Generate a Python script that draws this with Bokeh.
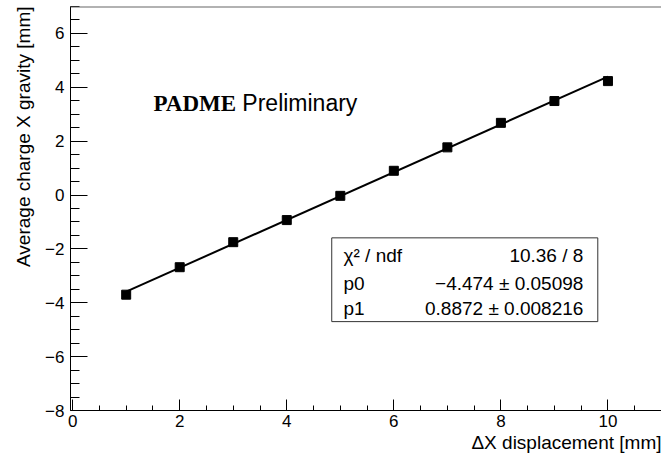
import numpy as np
from bokeh.plotting import figure
from bokeh.models import (Range1d, SingleIntervalTicker, CustomJSTickFormatter,
                          Label, BoxAnnotation, Span, Title)
from bokeh.embed import file_html
from bokeh.resources import INLINE

# ---- data ----
x_disp = [1, 2, 3, 4, 5, 6, 7, 8, 9, 10]
y_grav = [-3.70, -2.68, -1.75, -0.93, -0.03, 0.90, 1.77, 2.68, 3.49, 4.23]
p0 = -4.474
p1 = 0.8872
fit_x = [1, 10]
stats_names = ["\u03c7\u00b2 / ndf", "p0", "p1"]
stats_vals = ["10.36 / 8", "\u22124.474 \u00b1 0.05098", "0.8872 \u00b1 0.008216"]
x_title = "\u0394X displacement [mm]"
y_title = "Average charge X gravity [mm]"

SANS = "Liberation Sans"
SERIF = "Liberation Serif"

p = figure(width=661, height=462, output_backend="svg", toolbar_location=None,
           x_range=Range1d(-0.04, 11.0), y_range=Range1d(-8, 7.0),
           min_border_left=70, min_border_right=0, min_border_top=6,
           min_border_bottom=52)
p.outline_line_color = None
p.xgrid.visible = False
p.ygrid.visible = False
p.background_fill_color = "white"
p.border_fill_color = "white"

fmt = CustomJSTickFormatter(code="return tick < 0 ? '\u2212' + Math.abs(tick) : String(tick);")

xa = p.xaxis[0]
xa.ticker = SingleIntervalTicker(interval=2, num_minor_ticks=4)
xa.formatter = fmt
xa.major_tick_in = 11
xa.major_tick_out = 0
xa.minor_tick_in = 5
xa.minor_tick_out = 0
xa.major_label_standoff = 4
xa.major_label_text_font = SANS
xa.major_label_text_font_size = "17px"
xa.major_label_text_color = "black"
xa.axis_line_color = "black"
xa.major_tick_line_color = "black"
xa.minor_tick_line_color = "black"

ya = p.yaxis[0]
ya.ticker = SingleIntervalTicker(interval=2, num_minor_ticks=4)
ya.formatter = fmt
ya.major_tick_in = 17
ya.major_tick_out = 0
ya.minor_tick_in = 9
ya.minor_tick_out = 0
ya.major_label_standoff = 6
ya.major_label_text_font = SANS
ya.major_label_text_font_size = "17px"
ya.major_label_text_color = "black"
ya.axis_line_color = "black"
ya.major_tick_line_color = "black"
ya.minor_tick_line_color = "black"

# axis titles as side titles (right / top aligned like ROOT)
p.add_layout(Title(text=x_title, align="right", text_font=SANS,
                   text_font_size="19px", text_font_style="normal",
                   text_color="black", standoff=0), "below")
p.add_layout(Title(text=y_title, align="right", text_font=SANS,
                   text_font_size="19px", text_font_style="normal",
                   text_color="black", standoff=18), "left")

# top frame line
p.add_layout(Span(location=7.0, dimension="width", line_color="#666666", line_width=2))

# fit line and data
fit_y = [p0 + p1 * v for v in fit_x]
p.line(fit_x, fit_y, line_color="black", line_width=2)
p.scatter(x_disp, y_grav, marker="square", size=9, color="black")

# PADME Preliminary
p.add_layout(Label(x=1.51, y=3.40, text="PADME", text_align="left",
                   text_baseline="alphabetic", text_font=SERIF,
                   text_font_style="bold", text_font_size="23px",
                   text_color="black"))
p.add_layout(Label(x=3.17, y=3.40, text="Preliminary", text_align="left",
                   text_baseline="alphabetic", text_font=SANS,
                   text_font_size="23px", text_color="black"))

# stats box
p.add_layout(BoxAnnotation(left=4.84, right=9.81, top=-1.59, bottom=-4.70,
                           fill_color="white", fill_alpha=1.0,
                           line_color="#333333", line_width=1, line_alpha=1.0))
row_y = [-2.23, -3.27, -4.23]
for name, val, yy in zip(stats_names, stats_vals, row_y):
    p.add_layout(Label(x=5.06, y=yy, text=name, text_align="left",
                       text_baseline="alphabetic", text_font=SANS,
                       text_font_size="19px", text_color="black"))
    p.add_layout(Label(x=9.54, y=yy, text=val, text_align="right",
                       text_baseline="alphabetic", text_font=SANS,
                       text_font_size="19px", text_color="black"))

open("out.html", "w").write(file_html(p, INLINE))
